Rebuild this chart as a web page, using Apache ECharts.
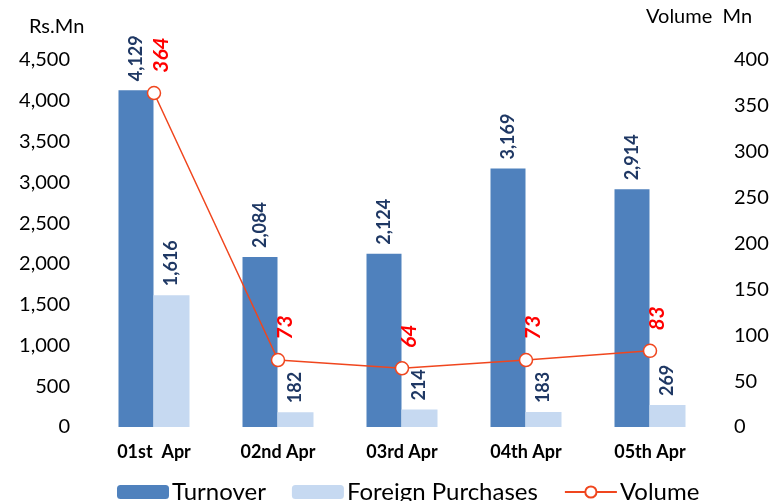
<!DOCTYPE html>
<html>
<head>
<meta charset="utf-8">
<script src="https://cdn.jsdelivr.net/npm/echarts@6/dist/echarts.min.js"></script>
<style>
  html, body { margin: 0; padding: 0; background: #fff; }
  #chart { width: 772px; height: 501px; }
</style>
</head>
<body>
<div id="chart"></div>
<script>
// Daily market summary: turnover and foreign purchases (Rs.Mn) with share volume (Mn)
const categories = ['01st  Apr', '02nd Apr', '03rd Apr', '04th Apr', '05th Apr'];
const turnover = [4129, 2084, 2124, 3169, 2914];
const foreignPurchases = [1616, 182, 214, 183, 269];
const volume = [364, 73, 64, 73, 83];

const FONT = 'Lato, "Open Sans", sans-serif';
const fmt = v => v.toLocaleString('en-US');

const chart = echarts.init(document.getElementById('chart'));

const barLabel = {
  show: true, position: 'top', rotate: 90, align: 'left', verticalAlign: 'middle',
  distance: 9, fontFamily: FONT, fontSize: 18, fontWeight: 'bold', color: '#1F3864',
  formatter: p => fmt(p.value)
};

chart.setOption({
  animation: false,
  backgroundColor: '#ffffff',
  grid: { left: 92, right: 60, top: 60, bottom: 74, containLabel: false },
  graphic: [
    { type: 'text', left: 29, top: 17, style: { text: 'Rs.Mn', font: '20px ' + FONT, fill: '#000' } },
    { type: 'text', left: 646, top: 7, style: { text: 'Volume  Mn', font: '20px ' + FONT, fill: '#000' } }
  ],
  legend: {
    top: 475,
    left: 112,
    itemGap: 26,
    itemWidth: 52,
    itemHeight: 14,
    textStyle: { fontFamily: FONT, fontSize: 24, color: '#000', padding: [0, 0, 0, -2] },
    data: ['Turnover', 'Foreign Purchases', 'Volume']
  },
  xAxis: {
    type: 'category',
    data: categories,
    axisLine: { show: false },
    axisTick: { show: false },
    axisLabel: { fontFamily: FONT, fontSize: 18, fontWeight: 'bold', color: '#000', margin: 16 }
  },
  yAxis: [
    {
      type: 'value', min: 0, max: 4500, interval: 500,
      splitLine: { show: false }, axisLine: { show: false }, axisTick: { show: false },
      axisLabel: { fontFamily: FONT, fontSize: 20, color: '#000', margin: 22, formatter: v => fmt(v) }
    },
    {
      type: 'value', min: 0, max: 400, interval: 50,
      splitLine: { show: false }, axisLine: { show: false }, axisTick: { show: false },
      axisLabel: { fontFamily: FONT, fontSize: 20, color: '#000', margin: 22 }
    }
  ],
  series: [
    {
      name: 'Turnover', type: 'bar', data: turnover, barWidth: 35, barGap: '0%',
      itemStyle: { color: '#4F81BD' },
      label: barLabel
    },
    {
      name: 'Foreign Purchases', type: 'bar', data: foreignPurchases, barWidth: 36,
      itemStyle: { color: '#C6D9F1' },
      label: barLabel
    },
    {
      name: 'Volume', type: 'line', yAxisIndex: 1, data: volume,
      symbol: 'circle', symbolSize: 13,
      lineStyle: { color: '#F0461E', width: 1.5 },
      itemStyle: { color: '#ffffff', borderColor: '#F0461E', borderWidth: 1.5 },
      label: {
        show: true, position: 'top', rotate: 90, align: 'left', verticalAlign: 'middle',
        distance: 13, offset: [0, 7], fontFamily: FONT, fontSize: 21, fontWeight: 'bold',
        fontStyle: 'italic', color: '#FF0000'
      }
    }
  ]
});
</script>
</body>
</html>
